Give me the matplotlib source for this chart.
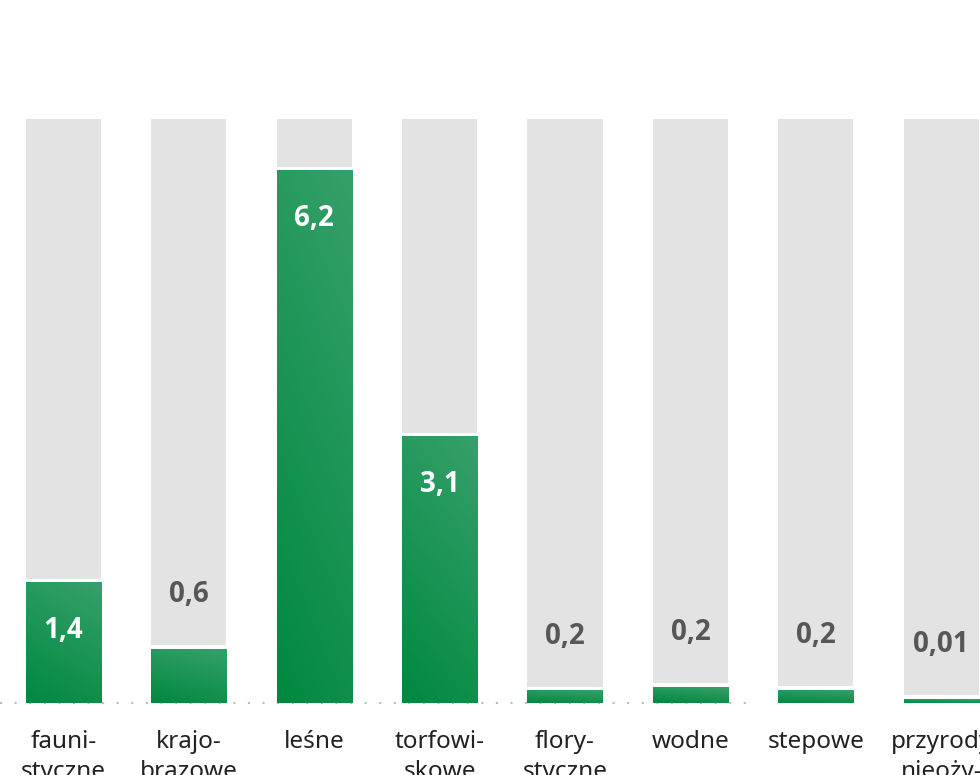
import numpy as np
import matplotlib.pyplot as plt
from matplotlib.colors import LinearSegmentedColormap

# data
categories = ["fauni-\nstyczne", "krajo-\nbrazowe", "leśne", "torfowi-\nskowe",
              "flory-\nstyczne", "wodne", "stepowe", "przyrody\nnieoży-\nwionej"]
values = [1.4, 0.62, 6.2, 3.1, 0.14, 0.18, 0.15, 0.04]
value_labels = ["1,4", "0,6", "6,2", "3,1", "0,2", "0,2", "0,2", "0,01"]
full_scale = 6.8

plt.rcParams['font.family'] = ['Noto Sans', 'DejaVu Sans']

fig = plt.figure(figsize=(9.8, 7.75), dpi=100)
ax = fig.add_axes([0, 0, 1, 1])
ax.axis('off')

x = np.arange(len(categories))
w = 0.6
green = LinearSegmentedColormap.from_list("g", ["#00893f", "#36a06b"])
grad = np.add.outer(np.linspace(0, 1, 50), np.linspace(0, 0.35, 50)) / 1.35

ax.bar(x, full_scale, width=w, color="#e3e3e3", zorder=1)
ax.bar(x, np.array(values) + 0.05, width=w, color="white", zorder=2)
for xi, v in zip(x, values):
    ax.imshow(grad, cmap=green, extent=[xi - w / 2, xi + w / 2, 0, v],
              origin='lower', aspect='auto', zorder=3, interpolation='bilinear')
ax.set_xlim(-0.506, 7.309)
ax.set_ylim(-0.839, 8.19)

ax.plot([-0.506, 5.49], [0, 0], color="#bbbbbb", lw=1.5,
        linestyle=(0, (1, 6)), zorder=0.5)

for xi, v, lab in zip(x, values, value_labels):
    if v > 1:
        ax.text(xi, v - 0.55, lab, ha='center', va='center', color='white',
                fontsize=20, fontweight='bold', family=['Open Sans', 'DejaVu Sans'],
                zorder=5)
    else:
        ax.text(xi, v + 0.64, lab, ha='center', va='center', color='#575757',
                fontsize=20, fontweight='bold', family=['Open Sans', 'DejaVu Sans'],
                zorder=5)

for xi, c in zip(x, categories):
    ax.text(xi, -0.31, c, ha='center', va='top', color='#222222',
            fontsize=17.5, linespacing=1.35, zorder=5)

fig.savefig("out.png", dpi=100)
